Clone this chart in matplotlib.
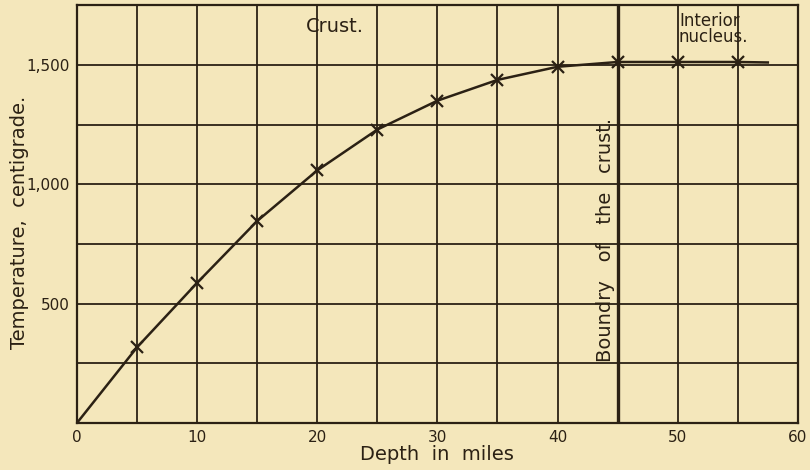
import matplotlib
matplotlib.use("Agg")
import matplotlib.pyplot as plt

# Data
depth_pts = [5, 10, 15, 20, 25, 30, 35, 40, 45, 50, 55]
temp_pts = [317, 587, 846, 1058, 1229, 1350, 1437, 1492, 1512, 1512, 1512]
curve_x = [0] + depth_pts + [57.5]
curve_y = [0] + temp_pts + [1510]
x_ticks = [0, 10, 20, 30, 40, 50, 60]
x_tick_labels = ["0", "10", "20", "30", "40", "50", "60"]
y_ticks = [500, 1000, 1500]
y_tick_labels = ["500", "1,000", "1,500"]
boundary_x = 45

bg = "#f4e7bb"
ink = "#2b2114"

plt.rcParams['font.family'] = ['DejaVu Sans']
fig = plt.figure(figsize=(8.1, 4.7), dpi=100, facecolor=bg)
ax = fig.add_axes([0.095, 0.1, 0.89, 0.889], facecolor=bg)

ax.set_xlim(0, 60)
ax.set_ylim(0, 1750)

# grid
for gx in range(5, 60, 5):
    ax.axvline(gx, color=ink, lw=1.3 if gx != boundary_x else 2.4, zorder=1)
for gy in range(250, 1750, 250):
    ax.axhline(gy, color=ink, lw=1.3, zorder=1)

ax.plot(curve_x, curve_y, color=ink, lw=1.8, zorder=3)
ax.plot(depth_pts, temp_pts, linestyle='none', marker='x', ms=8, mew=1.6,
        color=ink, zorder=4)

for s in ax.spines.values():
    s.set_color(ink)
    s.set_linewidth(1.6)

ax.set_xticks(x_ticks)
ax.set_xticklabels(x_tick_labels)
ax.set_yticks(y_ticks)
ax.set_yticklabels(y_tick_labels)
ax.tick_params(length=0, colors=ink, labelsize=11, pad=5)

ax.set_xlabel("Depth  in  miles", color=ink, fontsize=14, labelpad=0)
ax.set_ylabel("Temperature,  centigrade.", color=ink, fontsize=14)
ax.yaxis.set_label_coords(-0.066, 0.48)

ax.text(21.5, 1662, "Crust.", color=ink, fontsize=14, ha='center', va='center')
ax.text(50.1, 1650, "Interior\nnucleus.", color=ink, fontsize=12,
        ha='left', va='center', linespacing=0.85)
ax.text(44.0, 766, "Boundry   of   the   crust.", color=ink, fontsize=14,
        rotation=90, ha='center', va='center')

fig.savefig("out.png", dpi=100, facecolor=bg)
